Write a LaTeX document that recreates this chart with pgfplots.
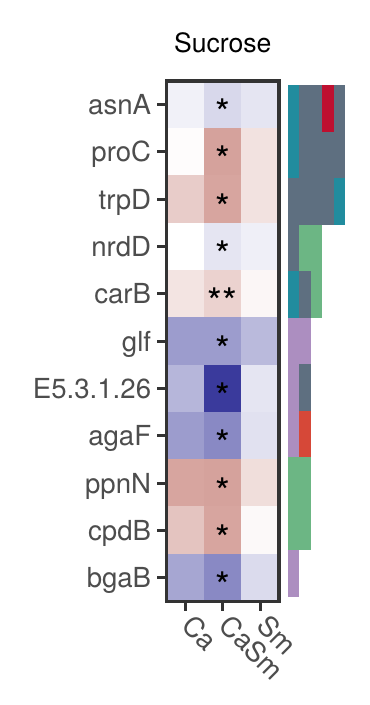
\documentclass[border=0pt]{standalone}
\usepackage{fontspec}
\setmainfont{TeX Gyre Heros}
\usepackage{pgfplots}
\usepackage{pgfplotstable}
\pgfplotsset{compat=1.18}
\definecolor{grey20}{HTML}{333333}
\definecolor{grey30}{HTML}{4D4D4D}
\definecolor{annteal}{HTML}{218C9E}
\definecolor{annslate}{HTML}{5E6F80}
\definecolor{annred}{HTML}{BE1030}
\definecolor{anngreen}{HTML}{6CB684}
\definecolor{annpurple}{HTML}{AC8EC0}
\definecolor{annorange}{HTML}{D64838}

\pgfplotstableread{
x y v
0 0 -0.07
1 0 -0.20
2 0 -0.13
0 1 0.02
1 1 0.64
2 1 0.20
0 2 0.35
1 2 0.62
2 2 0.20
0 3 0.00
1 3 -0.13
2 3 -0.08
0 4 0.19
1 4 0.31
2 4 0.06
0 5 -0.50
1 5 -0.50
2 5 -0.35
0 6 -0.37
1 6 -1.00
2 6 -0.13
0 7 -0.50
1 7 -0.60
2 7 -0.15
0 8 0.62
1 8 0.64
2 8 0.23
0 9 0.41
1 9 0.62
2 9 0.04
0 10 -0.45
1 10 -0.60
2 10 -0.18
}\heat

\pgfplotstableread{
x y lab
1 0 *
1 1 *
1 2 *
1 3 *
1 4 **
1 5 *
1 6 *
1 7 *
1 8 *
1 9 *
1 10 *
}\stars

\begin{document}
\begin{tikzpicture}
\fill[white] (-83.25pt,-51.75pt) rectangle (101.25pt,300.75pt);
\begin{axis}[
 at={(0,0)}, anchor=south west,
 scale only axis, width=56.25pt, height=260.25pt,
 xmin=-0.5, xmax=2.5, ymin=-0.5, ymax=10.5, y dir=reverse,
 enlargelimits=false,
 axis on top,
 axis line style={draw=grey20, line width=1.75pt},
 xtick={0,1,2}, xticklabels={Ca,CaSm,Sm},
 ytick={0,...,10}, yticklabels={asnA,proC,trpD,nrdD,carB,glf,E5.3.1.26,agaF,ppnN,cpdB,bgaB},
 xtick pos=bottom, ytick pos=left, tick align=outside, major tick length=4.5pt,
 tick style={draw=grey20, line width=1.5pt},
 yticklabel style={font=\fontsize{13.8}{16}\selectfont, text=grey30, anchor=base east, inner sep=0pt, xshift=-3pt, yshift=-4.9pt},
 xticklabel style={font=\fontsize{13.8}{16}\selectfont, text=grey30, inner sep=0pt, xshift=1pt, yshift=-5pt, rotate=-45, anchor=west},
 colormap={bwr}{rgb255=(58,58,156) rgb255=(255,255,255) rgb255=(190,110,100)},
 point meta min=-1, point meta max=1,
 title={Sucrose}, title style={font=\fontsize{13.3}{16}\selectfont, anchor=base, at={(0.5,1)}, yshift=8pt},
]
\addplot[matrix plot*, mesh/cols=3, point meta=explicit] table[meta=v] {\heat};
\addplot[draw=none, mark=none, nodes near coords, point meta=explicit symbolic,
  every node near coord/.append style={anchor=center, inner sep=0pt, font=\fontsize{19}{22}\selectfont, yshift=-4pt, text=black}] table[meta=lab] {\stars};
\end{axis}
\begin{axis}[
 at={(60.75pt,2.25pt)}, anchor=south west,
 scale only axis, width=28.5pt, height=256pt,
 xmin=0, xmax=5, ymin=0, ymax=11, y dir=reverse,
 hide axis,
]
\addplot[fill=annslate, draw=none] coordinates {(0,0) (5,0) (5,3) (0,3)} --cycle;
\addplot[fill=annteal, draw=none] coordinates {(0,0) (1,0) (1,2) (0,2)} --cycle;
\addplot[fill=annteal, draw=none] coordinates {(4,2) (5,2) (5,3) (4,3)} --cycle;
\addplot[fill=annred, draw=none] coordinates {(3,0) (4,0) (4,1) (3,1)} --cycle;
\addplot[fill=annslate, draw=none] coordinates {(0,3) (1,3) (1,4) (0,4)} --cycle;
\addplot[fill=anngreen, draw=none] coordinates {(1,3) (3,3) (3,4) (1,4)} --cycle;
\addplot[fill=annteal, draw=none] coordinates {(0,4) (1,4) (1,5) (0,5)} --cycle;
\addplot[fill=annslate, draw=none] coordinates {(1,4) (2,4) (2,5) (1,5)} --cycle;
\addplot[fill=anngreen, draw=none] coordinates {(2,4) (3,4) (3,5) (2,5)} --cycle;
\addplot[fill=annpurple, draw=none] coordinates {(0,5) (2,5) (2,6) (0,6)} --cycle;
\addplot[fill=annpurple, draw=none] coordinates {(0,6) (1,6) (1,8) (0,8)} --cycle;
\addplot[fill=annslate, draw=none] coordinates {(1,6) (2,6) (2,7) (1,7)} --cycle;
\addplot[fill=annorange, draw=none] coordinates {(1,7) (2,7) (2,8) (1,8)} --cycle;
\addplot[fill=anngreen, draw=none] coordinates {(0,8) (2,8) (2,10) (0,10)} --cycle;
\addplot[fill=annpurple, draw=none] coordinates {(0,10) (1,10) (1,11) (0,11)} --cycle;
\end{axis}
\end{tikzpicture}
\end{document}
